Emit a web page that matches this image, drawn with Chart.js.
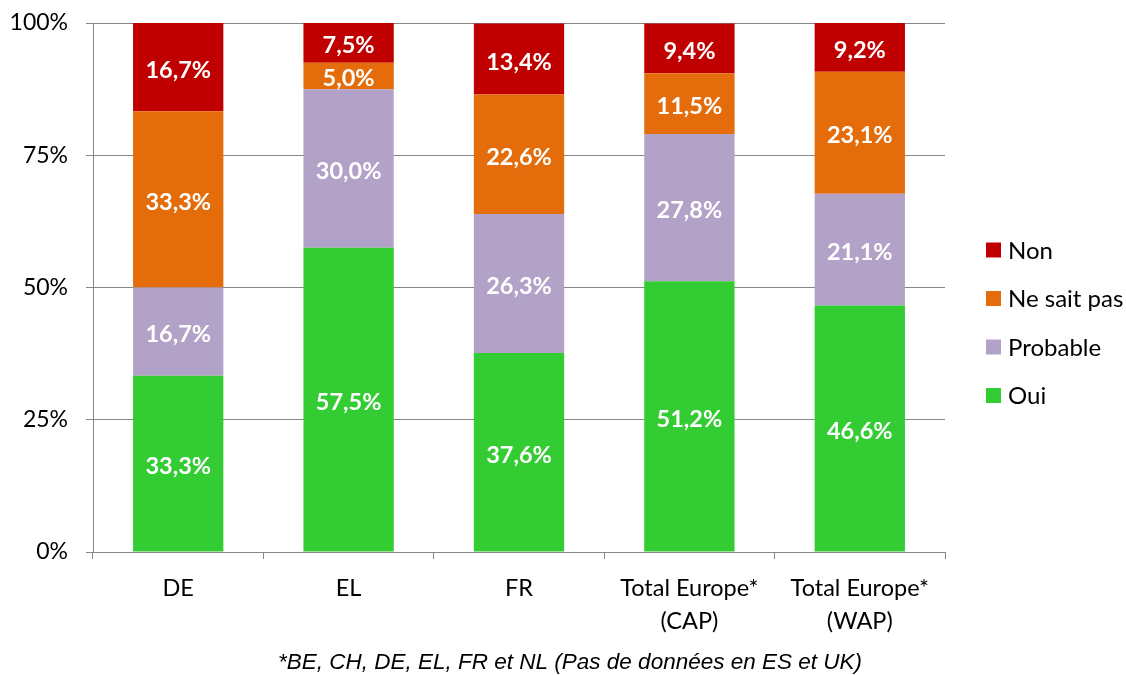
<!DOCTYPE html>
<html>
<head>
<meta charset="utf-8">
<script src="https://cdn.jsdelivr.net/npm/chart.js@4.4.1/dist/chart.umd.min.js"></script>
<style>
  html, body { margin: 0; padding: 0; background: #fff; }
  #wrap { width: 1126px; height: 675px; position: relative; }
</style>
</head>
<body>
<div id="wrap"><canvas id="chart" width="1126" height="675"></canvas></div>
<script>
// Chart data
const categories = ['DE', 'EL', 'FR', ['Total Europe*', '(CAP)'], ['Total Europe*', '(WAP)']];
const oui = [33.3, 57.5, 37.6, 51.2, 46.6];
const probable = [16.7, 30.0, 26.3, 27.8, 21.1];
const neSaitPas = [33.3, 5.0, 22.6, 11.5, 23.1];
const non = [16.7, 7.5, 13.4, 9.4, 9.2];
const yTicks = [0, 25, 50, 75, 100];
const footnote = '*BE, CH, DE, EL, FR et NL (Pas de données en ES et UK)';

const colors = {
    oui: '#33CC33',
    probable: '#B3A2C7',
    neSaitPas: '#E46C0A',
    non: '#C00000'
};

// White value labels inside each segment
const valueLabels = {
    id: 'valueLabels',
    afterDatasetsDraw(chart) {
        const ctx = chart.ctx;
        ctx.save();
        ctx.fillStyle = '#fff';
        ctx.font = 'bold 23.5px Lato';
        ctx.textAlign = 'center';
        ctx.textBaseline = 'middle';
        chart.data.datasets.forEach((ds, i) => {
            chart.getDatasetMeta(i).data.forEach((bar, j) => {
                const txt = ds.data[j].toFixed(1).replace('.', ',') + '%';
                ctx.fillText(txt, bar.x, (bar.y + bar.base) / 2 + 3);
            });
        });
        ctx.restore();
    }
};

// Legend on the right (reverse order) and footnote
const extras = {
    id: 'extras',
    afterDraw(chart) {
        const ctx = chart.ctx;
        ctx.save();
        const items = chart.data.datasets.slice().reverse();
        ctx.font = '24px Lato';
        ctx.textBaseline = 'middle';
        ctx.textAlign = 'left';
        items.forEach((ds, k) => {
            const y = 250 + k * 48.5;
            ctx.fillStyle = ds.backgroundColor;
            ctx.fillRect(986, y - 7.5, 15, 15);
            ctx.fillStyle = '#000';
            ctx.fillText(ds.label, 1008, y + 1);
        });
        ctx.font = 'italic 22.5px "Liberation Sans"';
        ctx.textAlign = 'center';
        ctx.fillText(footnote, 570, 663);
        ctx.restore();
    }
};

const ctx = document.getElementById('chart').getContext('2d');
const chart = new Chart(ctx, {
    type: 'bar',
    data: {
        labels: categories,
        datasets: [
            { label: 'Oui', data: oui, backgroundColor: colors.oui },
            { label: 'Probable', data: probable, backgroundColor: colors.probable },
            { label: 'Ne sait pas', data: neSaitPas, backgroundColor: colors.neSaitPas },
            { label: 'Non', data: non, backgroundColor: colors.non }
        ]
    },
    options: {
        responsive: false,
        animation: false,
        layout: { padding: { top: 23, right: 181, left: 0, bottom: 0 } },
        datasets: {
            bar: { categoryPercentage: 1.0, barPercentage: 0.53 }
        },
        plugins: {
            legend: { display: false },
            tooltip: { enabled: false }
        },
        scales: {
            x: {
                stacked: true,
                afterFit: function(scale) {
                    scale.height = 123;
                    scale.paddingLeft = 0;
                    scale.paddingRight = 0;
                },
                grid: {
                    drawOnChartArea: false,
                    drawTicks: true,
                    tickLength: 7,
                    color: '#868686'
                },
                border: { color: '#868686', width: 1 },
                ticks: {
                    color: '#000',
                    padding: 13,
                    maxRotation: 0,
                    font: { family: 'Lato', size: 23.5, lineHeight: 1.4 }
                }
            },
            y: {
                stacked: true,
                min: 0,
                max: 100,
                afterFit: function(scale) {
                    scale.width = 93;
                    scale.paddingTop = 0;
                    scale.paddingBottom = 0;
                },
                afterBuildTicks: function(scale) {
                    scale.ticks = yTicks.map(v => ({ value: v }));
                },
                grid: {
                    color: '#868686',
                    lineWidth: 1,
                    tickLength: 7
                },
                border: { color: '#868686', width: 1 },
                ticks: {
                    color: '#000',
                    padding: 18,
                    font: { family: 'Lato', size: 23 },
                    callback: v => v + '%'
                }
            }
        }
    },
    plugins: [valueLabels, extras]
});
</script>
</body>
</html>
